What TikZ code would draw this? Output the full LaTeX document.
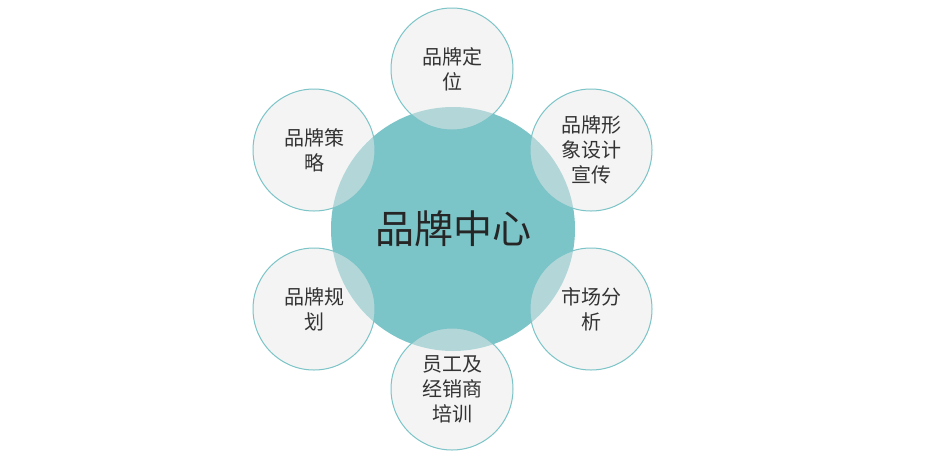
\documentclass[tikz,border=0pt]{standalone}
\usepackage{fontspec}
\setmainfont{Noto Sans CJK SC}
\begin{document}
\begin{tikzpicture}[x=1pt,y=-1pt,
  hub/.style={circle,fill=teal7,minimum size=244pt,inner sep=0pt,font=\fontsize{39}{42}\selectfont,text=black!85},
  sat/.style={circle,draw=teal7,line width=1pt,fill=satfill,fill opacity=0.5,text opacity=1,minimum size=122pt,inner sep=0pt,align=center,font=\fontsize{20}{25}\selectfont,text=black!80}]
\definecolor{teal7}{HTML}{7BC4C7}
\definecolor{satfill}{HTML}{EBEBEB}
\useasboundingbox (0,0) rectangle (932,459);
\fill[white] (0,0) rectangle (932,459);
\node[hub] (c) at (453,229) {品牌中心};
\node[sat] (t) at (452,69) {品牌定\\位};
\node[sat] (tr) at (591,150) {品牌形\\象设计\\宣传};
\node[sat] (br) at (591,309) {市场分\\析};
\node[sat] (b) at (452,389) {员工及\\经销商\\培训};
\node[sat] (bl) at (314,309) {品牌规\\划};
\node[sat] (tl) at (314,150) {品牌策\\略};
\end{tikzpicture}
\end{document}
